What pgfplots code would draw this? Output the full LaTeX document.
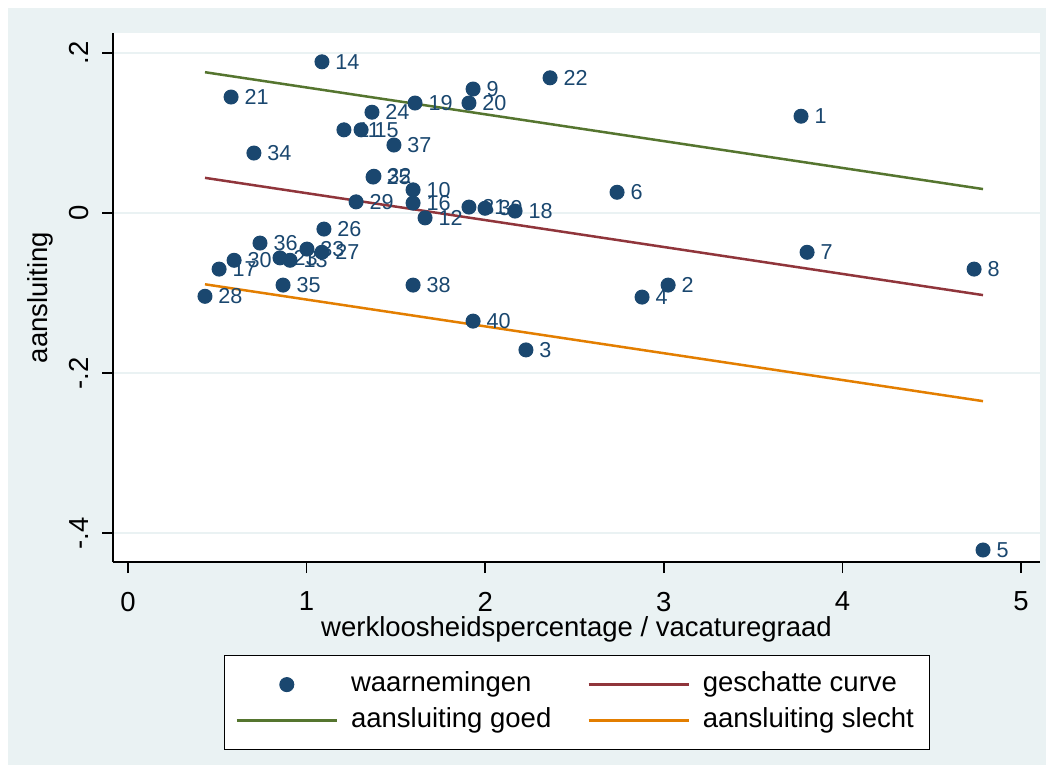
\documentclass[border=0pt]{standalone}
\usepackage{fontspec}
\setmainfont{Liberation Sans}
\usepackage{pgfplots}
\pgfplotsset{compat=1.18}
\usepackage{pgfplotstable}
\definecolor{navy}{RGB}{26,71,111}
\definecolor{stmaroon}{RGB}{144,53,59}
\definecolor{stgreen}{RGB}{85,117,47}
\definecolor{storange}{RGB}{227,126,0}
\definecolor{bgc}{RGB}{234,242,243}
\pgfplotsset{
  lineleg/.style={legend image code/.code={\draw[##1] (0bp,0bp) -- (50bp,0bp);}},
  markleg/.style={legend image code/.code={\draw[##1] plot coordinates {(25bp,0bp)};}},
}

\pgfplotstableread{
x y lab
3.768 0.121 1
3.024 -0.090 2
2.228 -0.171 3
2.878 -0.105 4
4.787 -0.421 5
2.738 0.026 6
3.802 -0.049 7
4.737 -0.070 8
1.932 0.155 9
1.596 0.029 10
1.209 0.104 11
1.663 -0.006 12
0.907 -0.059 13
1.086 0.189 14
1.305 0.104 15
1.596 0.0125 16
0.510 -0.070 17
2.167 0.0025 18
1.607 0.1375 19
1.909 0.1375 20
0.577 0.145 21
2.363 0.169 22
0.851 -0.056 23
1.366 0.126 24
1.372 0.045 25
1.097 -0.020 26
1.086 -0.049 27
0.431 -0.104 28
1.277 0.014 29
0.594 -0.059 30
1.909 0.0075 31
1.377 0.046 32
1.002 -0.045 33
0.705 0.075 34
0.868 -0.090 35
0.739 -0.0375 36
1.489 0.085 37
1.596 -0.090 38
1.999 0.006 39
1.932 -0.135 40
}\obs

\begin{document}
\begin{tikzpicture}
\fill[white] (0,0) rectangle (526bp,-385.5bp);
\fill[bgc] (4bp,-4bp) rectangle (523bp,-382.5bp);
\begin{axis}[
  at={(56.5bp,-281bp)}, anchor=south west,
  scale only axis, width=463.5bp, height=264.5bp,
  xmin=-0.084, xmax=5.106, ymin=-0.436, ymax=0.225,
  axis background/.style={fill=white},
  axis x line*=bottom, axis y line*=left,
  axis line style={black, line width=0.75bp, -},
  tick align=outside, major tick length=5.5bp,
  tick style={black, line width=0.75bp},
  xtick={0,1,2,3,4,5}, xticklabels={0,1,2,3,4,5},
  ytick={-0.4,-0.2,0,0.2}, yticklabels={-.4,-.2,0,.2},
  ymajorgrids, grid style={bgc, line width=1bp},
  ticklabel style={font=\fontsize{13.75bp}{16bp}\selectfont},
  yticklabel style={rotate=90, anchor=south},
  xticklabel shift=6bp,
  yticklabel shift=3bp,
  xlabel={werkloosheidspercentage / vacaturegraad},
  ylabel={aansluiting},
  label style={font=\fontsize{13.75bp}{16bp}\selectfont},
  xlabel style={at={(axis description cs:0.5,-0.127)}, anchor=center},
  ylabel style={at={(axis description cs:-0.0787,0.5)}, anchor=center},
  clip=false,
  legend columns=2,
  legend cell align=left,
  legend style={at={(axis description cs:0.1197,-0.1758)}, anchor=north west,
    draw=black, line width=0.6bp, fill=white,
    font=\fontsize{13.75bp}{16bp}\selectfont,
    inner xsep=5.5bp, inner ysep=5.5bp,
    nodes={text height=10bp, text depth=3bp, inner sep=2.5bp},
    /tikz/every odd column/.append style={column sep=4bp},
    /tikz/every even column/.append style={column sep=15.5bp}},
]
\addplot[only marks, mark=*, mark size=3.5bp, color=navy, line width=0.5bp,
  nodes near coords, point meta=explicit symbolic,
  every node near coord/.append style={anchor=west, xshift=6.5bp, inner sep=0pt,
    font=\fontsize{10.8bp}{12bp}\selectfont, text=navy},
  markleg]
  table[x=x, y=y, meta=lab] {\obs};
\addlegendentry{waarnemingen}
\addplot[stmaroon, line width=1.25bp, lineleg]
  coordinates {(0.431,0.044) (4.787,-0.1025)};
\addlegendentry{geschatte curve}
\addplot[stgreen, line width=1.25bp, lineleg]
  coordinates {(0.431,0.176) (4.787,0.030)};
\addlegendentry{aansluiting goed}
\addplot[storange, line width=1.25bp, lineleg]
  coordinates {(0.431,-0.089) (4.787,-0.235)};
\addlegendentry{aansluiting slecht}
\end{axis}
\end{tikzpicture}
\end{document}
